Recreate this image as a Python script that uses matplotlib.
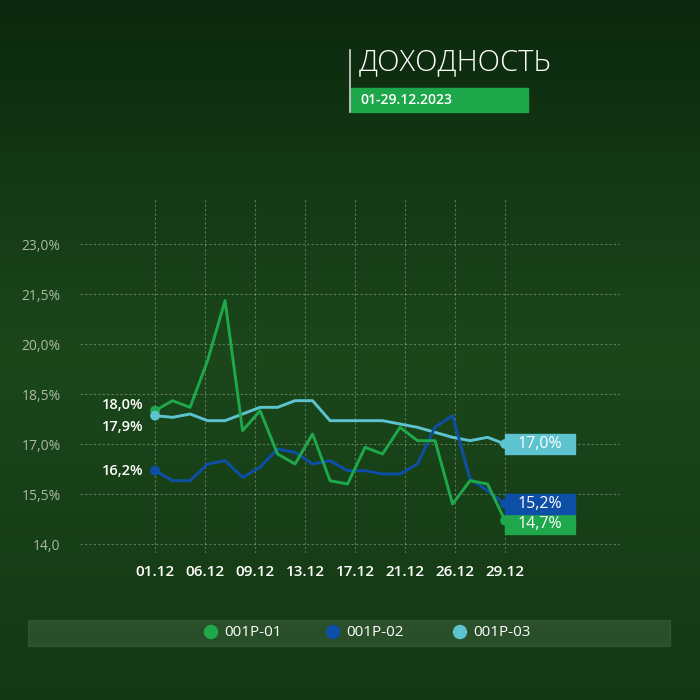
import numpy as np
import matplotlib
matplotlib.use("Agg")
import matplotlib.pyplot as plt
from matplotlib.patches import Rectangle, Circle

plt.rcParams['font.family'] = ['Open Sans', 'DejaVu Sans']

# даты торгов (рабочие дни декабря)
dates = ["01.12", "04.12", "05.12", "06.12", "07.12", "08.12", "11.12",
         "12.12", "13.12", "14.12", "15.12", "18.12", "19.12", "20.12",
         "21.12", "22.12", "25.12", "26.12", "27.12", "28.12", "29.12"]
tick_labels = ["01.12", "06.12", "09.12", "13.12", "17.12", "21.12", "26.12", "29.12"]
y_ticks = [14.0, 15.5, 17.0, 18.5, 20.0, 21.5, 23.0]
y_tick_labels = ["14,0", "15,5%", "17,0%", "18,5%", "20,0%", "21,5%", "23,0%"]

names = ["001P-01", "001P-02", "001P-03"]
p01 = [18.0, 18.3, 18.1, 19.5, 21.3, 17.4, 18.0, 16.7, 16.4, 17.3, 15.9,
       15.8, 16.9, 16.7, 17.5, 17.1, 17.1, 15.2, 15.9, 15.8, 14.7]
p02 = [16.2, 15.9, 15.9, 16.4, 16.5, 16.0, 16.3, 16.85, 16.75, 16.4, 16.5,
       16.2, 16.2, 16.1, 16.1, 16.4, 17.5, 17.85, 15.95, 15.6, 15.2]
p03 = [17.85, 17.8, 17.9, 17.7, 17.7, 17.9, 18.1, 18.1, 18.3, 18.3, 17.7,
       17.7, 17.7, 17.7, 17.6, 17.5, 17.35, 17.2, 17.1, 17.2, 17.0]
start_labels = ["18,0%", "16,2%", "17,9%"]
end_labels = ["14,7%", "15,2%", "17,0%"]

colors = ["#1fa84b", "#0d4fa6", "#5cc3cf"]

fig = plt.figure(figsize=(7, 7), dpi=100)

# фон - тёмно-зелёный градиент
bg = fig.add_axes([0, 0, 1, 1])
bg.set_axis_off()
t = np.linspace(0, 1, 256)
grad = np.where(t < 0.5, t / 0.5, (1 - t) / 0.5 * 0.5 + 0.5)
top = np.array([0x0c, 0x28, 0x0e]) / 255
mid = np.array([0x1b, 0x47, 0x1b]) / 255
img = top[None, :] + (mid - top)[None, :] * grad[:, None]
bg.imshow(img[:, None, :], aspect='auto', extent=[0, 1, 0, 1])
bg.set_xlim(0, 1)
bg.set_ylim(0, 1)

# заголовок
fig.text(359 / 700, 1 - 63 / 700, "ДОХОДНОСТЬ", color="white", fontsize=21,
         fontweight="light", va="center", ha="left")
fig.add_artist(plt.Line2D([350 / 700, 350 / 700], [1 - 50 / 700, 1 - 112 / 700],
                          color="white", lw=1.2, alpha=0.8))
fig.add_artist(Rectangle((351 / 700, 1 - 112 / 700), 177 / 700, 24 / 700,
                         color="#1ea64a", transform=fig.transFigure))
fig.text(360 / 700, 1 - 100 / 700, "01-29.12.2023", color="white", fontsize=10,
         fontweight="semibold", va="center", ha="left")

# легенда
fig.add_artist(Rectangle((28 / 700, 1 - 646 / 700), 642 / 700, 26 / 700,
                         color="#3f653f", alpha=0.5, transform=fig.transFigure))
leg_x = [211, 333, 460]
for i in range(3):
    fig.add_artist(Circle((leg_x[i] / 700, 1 - 632 / 700), 6.5 / 700,
                          color=colors[i], transform=fig.transFigure))
    fig.text((leg_x[i] + 13) / 700, 1 - 632 / 700, names[i], color="white",
             fontsize=11, va="center", ha="left")

ax = fig.add_axes([80 / 700, 1 - 553 / 700, 540 / 700, 356 / 700])
ax.patch.set_alpha(0)
for s in ax.spines.values():
    s.set_visible(False)

x = np.arange(len(dates))
series = [p01, p02, p03]
for i in range(3):
    ax.plot(x, series[i], color=colors[i], lw=2.1, zorder=3 + (2 - i) * 0.1)
    ax.scatter([x[0], x[-1]], [series[i][0], series[i][-1]], s=50,
               color=colors[i], zorder=5, edgecolor="none")

# подписи в начале
start_offsets = [4, 0, -8]
for i in range(3):
    ax.annotate(start_labels[i], (x[0], series[i][0]), xytext=(-8, start_offsets[i]),
                textcoords="offset points", ha="right", va="center",
                color="white", fontsize=10.5, fontweight="semibold")

# подписи в конце (плашки)
box_shift = [-0.1, 0.0, 0.0]
for i in range(3):
    yc = series[i][-1] + box_shift[i]
    ax.add_patch(Rectangle((x[-1], yc - 0.3), 4, 0.6, color=colors[i],
                           zorder=4))
    ax.text(x[-1] + 2, yc, end_labels[i], color="white", fontsize=11.5,
            ha="center", va="center", zorder=6)

ax.set_xlim(-4.29, 26.57)
ax.set_ylim(13.73, 24.41)
ax.set_xticks(np.linspace(0, len(dates) - 1, len(tick_labels)))
ax.set_xticklabels(tick_labels, color="white", fontsize=11, fontweight="semibold")
ax.set_yticks(y_ticks)
ax.set_yticklabels(y_tick_labels, color="#a9b9a3", fontsize=10)
ax.tick_params(length=0)
ax.tick_params(axis="x", pad=9)
ax.tick_params(axis="y", pad=14)
ax.grid(True, color="#9fb39a", alpha=0.5, lw=0.8, ls=(0, (2, 2)))

fig.savefig("out.png", dpi=100)
